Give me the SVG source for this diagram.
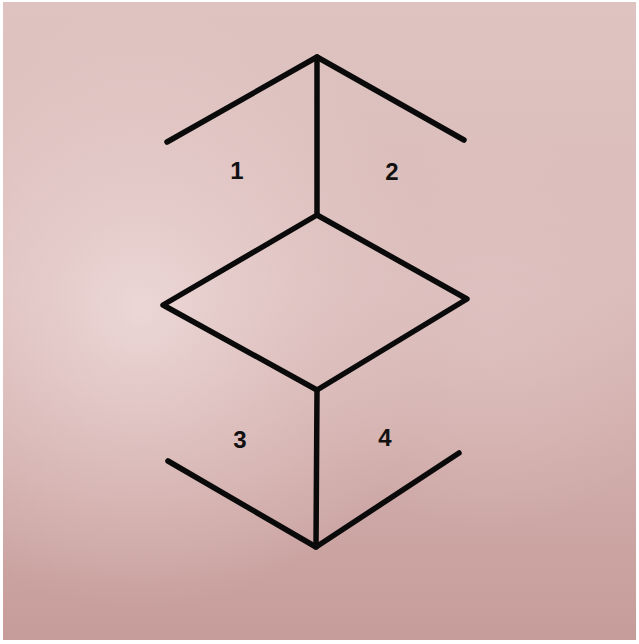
<svg xmlns="http://www.w3.org/2000/svg" width="639" height="644" viewBox="0 0 639 644">
  <defs>
    <linearGradient id="bgv" x1="0" y1="0" x2="0" y2="1">
      <stop offset="0" stop-color="#dec3c1"/>
      <stop offset="0.45" stop-color="#dabcba"/>
      <stop offset="1" stop-color="#c69c9a"/>
    </linearGradient>
    <radialGradient id="glow" cx="140" cy="310" r="300" gradientUnits="userSpaceOnUse">
      <stop offset="0" stop-color="#f0dedd" stop-opacity="0.8"/>
      <stop offset="0.6" stop-color="#ead2d1" stop-opacity="0.35"/>
      <stop offset="1" stop-color="#e6cccb" stop-opacity="0"/>
    </radialGradient>
    <radialGradient id="glow2" cx="490" cy="330" r="200" gradientUnits="userSpaceOnUse">
      <stop offset="0" stop-color="#e2c7c6" stop-opacity="0.5"/>
      <stop offset="1" stop-color="#e2c7c6" stop-opacity="0"/>
    </radialGradient>
    <style>
      .ln { fill: none; stroke: #0a0a0a; stroke-width: 5.5; stroke-linecap: round; stroke-linejoin: round; }
      .lbl { font-family: "Liberation Sans", Arial, sans-serif; font-weight: bold; font-size: 24px; fill: #111; text-anchor: middle; dominant-baseline: central; }
    </style>
  </defs>
  <rect x="0" y="0" width="639" height="644" fill="#ffffff"/>
  <rect x="3" y="2" width="633" height="638" fill="url(#bgv)"/>
  <rect x="3" y="2" width="633" height="638" fill="url(#glow)"/>
  <rect x="3" y="2" width="633" height="638" fill="url(#glow2)"/>

  <g id="connectors">
    <polyline class="ln" points="167,142 317,57 464,140"/>
    <line class="ln" x1="317" y1="57" x2="317" y2="215"/>
    <line class="ln" x1="317" y1="390" x2="316" y2="547"/>
    <polyline class="ln" points="168,461 316,547 459,453"/>
  </g>

  <g id="diamond">
    <polygon class="ln" points="317,215 467,299 317,390 163,305"/>
  </g>

  <g id="label-1"><text class="lbl" x="237" y="170">1</text></g>
  <g id="label-2"><text class="lbl" x="392" y="171">2</text></g>
  <g id="label-3"><text class="lbl" x="240" y="439">3</text></g>
  <g id="label-4"><text class="lbl" x="385" y="437">4</text></g>
</svg>
